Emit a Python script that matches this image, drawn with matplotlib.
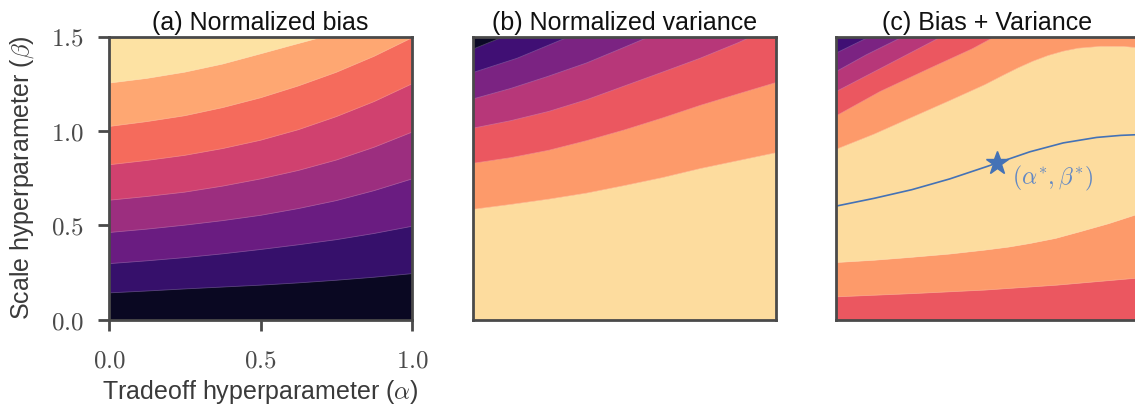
import matplotlib
matplotlib.use("Agg")
import matplotlib.pyplot as plt
import numpy as np

plt.rcParams['font.family'] = ['Liberation Sans', 'DejaVu Sans']
plt.rcParams['mathtext.fontset'] = 'cm'

# ---------------- data ----------------
titles = ["(a) Normalized bias", "(b) Normalized variance", "(c) Bias + Variance"]
xlabel = r"Tradeoff hyperparameter ($\alpha$)"
ylabel = r"Scale hyperparameter ($\beta$)"
xticks = [0.0, 0.5, 1.0]
yticks = [0.0, 0.5, 1.0, 1.5]
tick_labels_x = [r"$0.0$", r"$0.5$", r"$1.0$"]
tick_labels_y = [r"$0.0$", r"$0.5$", r"$1.0$", r"$1.5$"]

# Panel (a): contour boundaries (bottom -> top), each an (alpha, beta) polyline
a_grid = [0.0, 0.125, 0.25, 0.375, 0.5, 0.625, 0.75, 0.875, 1.0]
bias_alpha = [a_grid] * 6 + [[0.0, 0.125, 0.25, 0.375, 0.5, 0.6, 0.711]]
bias_beta = [
    [0.141, 0.151, 0.162, 0.172, 0.182, 0.194, 0.208, 0.224, 0.243],
    [0.296, 0.311, 0.328, 0.348, 0.371, 0.396, 0.423, 0.456, 0.494],
    [0.461, 0.479, 0.500, 0.524, 0.552, 0.588, 0.630, 0.683, 0.745],
    [0.632, 0.652, 0.675, 0.707, 0.745, 0.790, 0.845, 0.913, 0.993],
    [0.820, 0.843, 0.870, 0.906, 0.950, 1.006, 1.075, 1.155, 1.249],
    [1.023, 1.049, 1.080, 1.123, 1.175, 1.238, 1.310, 1.395, 1.493],
    [1.253, 1.278, 1.311, 1.354, 1.408, 1.452, 1.500],
]
bias_base_level = 0
bias_levels_above = [1, 2, 3, 4, 5, 6, 7]
bias_nlevels = 8

# Panel (b)
var_alpha = [
    a_grid,
    a_grid,
    [0.0, 0.125, 0.25, 0.375, 0.5, 0.625, 0.75, 0.875, 0.92],
    [0.0, 0.125, 0.246, 0.375, 0.48, 0.583],
    [0.0, 0.146, 0.318],
    [0.0, 0.102],
]
var_beta = [
    [0.584, 0.610, 0.638, 0.670, 0.710, 0.752, 0.800, 0.842, 0.884],
    [0.828, 0.858, 0.897, 0.948, 1.005, 1.068, 1.135, 1.196, 1.256],
    [1.014, 1.054, 1.103, 1.165, 1.238, 1.311, 1.385, 1.467, 1.500],
    [1.169, 1.225, 1.288, 1.360, 1.430, 1.500],
    [1.309, 1.385, 1.500],
    [1.433, 1.500],
]
var_base_level = 6
var_levels_above = [5, 4, 3, 2, 1, 0]
var_nlevels = 7

# Panel (c)
tot_alpha = [
    [0.0, 0.25, 0.492, 0.729, 1.0],
    [0.0, 0.125, 0.244, 0.375, 0.492, 0.57, 0.64, 0.725, 0.805, 0.9, 1.0],
    [0.0, 0.125, 0.244, 0.375, 0.492, 0.55, 0.6, 0.65, 0.7, 0.75, 0.8, 0.875, 0.95, 1.0],
    [0.0, 0.145, 0.310, 0.45, 0.525],
    [0.0, 0.170, 0.349],
    [0.0, 0.10, 0.222],
    [0.0, 0.112],
]
tot_beta = [
    [0.120, 0.137, 0.156, 0.182, 0.220],
    [0.302, 0.314, 0.329, 0.347, 0.368, 0.384, 0.403, 0.430, 0.465, 0.508, 0.560],
    [0.902, 0.982, 1.067, 1.160, 1.245, 1.293, 1.333, 1.369, 1.399, 1.422, 1.438, 1.448, 1.447, 1.440],
    [1.079, 1.208, 1.332, 1.435, 1.500],
    [1.208, 1.350, 1.500],
    [1.314, 1.403, 1.500],
    [1.412, 1.500],
]
tot_base_level = 4
tot_levels_above = [5, 6, 5, 4, 3, 2, 1]
tot_nlevels = 7

# optimal path and optimum
path_alpha = [0.0, 0.125, 0.25, 0.375, 0.5, 0.64, 0.75, 0.86, 0.94, 1.0]
path_beta = [0.601, 0.642, 0.688, 0.745, 0.812, 0.889, 0.936, 0.965, 0.976, 0.980]
opt_alpha = 0.530
opt_beta = 0.831
opt_label = r"$(\alpha^{*}, \beta^{*})$"

# ---------------- drawing ----------------
W, H = 1135, 409
fig = plt.figure(figsize=(W / 100, H / 100), dpi=100)
cmap = plt.get_cmap('magma')

lefts = [109, 473, 836]
axw, axh = 303, 283
bottom = H - 319.5

spine_col = '#4a4a4a'
XMAX, YMAX = 1.0, 1.5


def draw_panel(ax, alphas, betas, base, above, n):
    ax.fill([0, XMAX, XMAX, 0], [0, 0, YMAX, YMAX], color=cmap((base + 0.5) / n),
            lw=0, zorder=1)
    for k, (a, b) in enumerate(zip(alphas, betas)):
        c = cmap((above[k] + 0.5) / n)
        xs = list(a) + [XMAX, 0.0]
        ys = list(b) + [YMAX, YMAX]
        ax.fill(xs, ys, color=c, lw=0.3, ec=c, zorder=2 + k)
    for k, (a, b) in enumerate(zip(alphas, betas)):
        ax.plot(a, b, color='white', lw=0.6, alpha=0.22, zorder=15,
                solid_joinstyle='round')


axes = []
for i in range(3):
    ax = fig.add_axes([lefts[i] / W, bottom / H, axw / W, axh / H])
    ax.set_xlim(0, XMAX)
    ax.set_ylim(0, YMAX)
    for s in ax.spines.values():
        s.set_color(spine_col)
        s.set_linewidth(2.0)
        s.set_zorder(50)
    ax.set_title(titles[i], fontsize=18, color='#111111', pad=5)
    axes.append(ax)

draw_panel(axes[0], bias_alpha, bias_beta, bias_base_level, bias_levels_above, bias_nlevels)
draw_panel(axes[1], var_alpha, var_beta, var_base_level, var_levels_above, var_nlevels)
draw_panel(axes[2], tot_alpha, tot_beta, tot_base_level, tot_levels_above, tot_nlevels)

ax = axes[0]
ax.set_xticks(xticks)
ax.set_xticklabels(tick_labels_x)
ax.set_yticks(yticks)
ax.set_yticklabels(tick_labels_y)
ax.tick_params(axis='both', direction='out', length=8, width=2, color=spine_col,
               labelsize=18, labelcolor='#4a4a4a')
ax.tick_params(axis='x', pad=13)
ax.tick_params(axis='y', pad=10)
ax.set_xlabel(xlabel, fontsize=18, color='#3a3a3a', labelpad=4)
ax.set_ylabel(ylabel, fontsize=18, color='#3a3a3a', labelpad=11)

for ax in axes[1:]:
    ax.set_xticks([])
    ax.set_yticks([])

axc = axes[2]
blue = '#4472b6'
axc.plot(path_alpha, path_beta, color=blue, lw=1.2, zorder=20)
axc.plot([opt_alpha], [opt_beta], marker='*', ms=17, color=blue, mec=blue, zorder=21,
         ls='none')
axc.text(0.58, 0.75, opt_label, fontsize=17, color='#6288c4', ha='left', va='center',
         zorder=22)

fig.savefig('out.png', dpi=100)
